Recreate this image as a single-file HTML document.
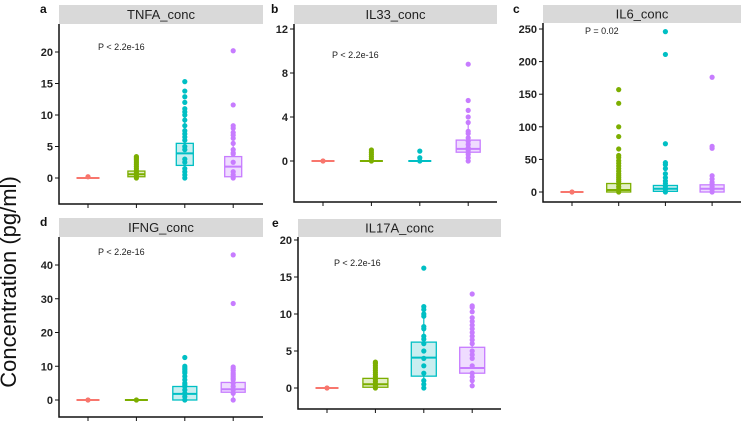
<!DOCTYPE html>
<html><head><meta charset="utf-8">
<style>
html,body{margin:0;padding:0;background:#fff;}
svg{display:block;font-family:"Liberation Sans",Arial,sans-serif;}
</style></head>
<body>
<svg id="fig" width="741" height="422" viewBox="0 0 741 422">
<text x="16" y="282" transform="rotate(-90 16 282)" text-anchor="middle" font-size="22" fill="#111">Concentration (pg/ml)</text>
</svg>
<script>
// ---- data ----
const groups = ["g1","g2","g3","g4"];
const colors = ["#F8766D","#7CAE00","#00BFC4","#C77CFF"];
const fills = ["#fde3e1","#e3efc6","#c9eef0","#efdcff"];

const tnfaTicks = [0,5,10,15,20];
const tnfaBoxes = [[0,0,0,0,0],[0.2,0.6,1.1,0,2],[2,3.9,5.5,0,10],[0.2,1.8,3.4,0,8]];
const tnfaPoints = [[0.2],[0,0.3,0.6,0.9,1.2,1.5,1.8,2.1,2.4,2.7,3,3.2,3.4],[0,0.5,1,1.5,2.5,3,4.5,5,6,6.5,7,7.5,8.3,9.2,10,10.5,11,12,12.9,13.8,15.3],[0,0.5,1,2.5,3.8,4,4.5,5.5,6.3,6.8,7.2,7.9,8.3,11.6,20.2]];

const il33Ticks = [0,4,8,12];
const il33Boxes = [[0,0,0,0,0],[0,0,0,0,0],[0,0,0,0,0],[0.8,1.1,1.9,0,3.4]];
const il33Points = [[0],[0,0.2,0.4,0.6,0.8,1.0],[0,0.3,0.9],[0,0.3,0.6,0.8,1,1.2,1.5,1.8,2.1,2.5,2.7,3.5,4.0,4.6,5.5,8.8]];

const il6Ticks = [0,50,100,150,200,250];
const il6Boxes = [[0,0,0,0,0],[0,3,13,0,30],[1,5,10,0,20],[0,5,11,0,25]];
const il6Points = [[0],[0,4,8,12,16,19,22,25,28,32,36,40,44,48,53,56,66,85,100,136,157],[0,4,8,13,17,22,28,36,42,45,74,211,246],[0,4,8,12,15,20,25,67,70,176]];

const ifngTicks = [0,10,20,30,40];
const ifngBoxes = [[0,0,0,0,0],[0,0,0,0,0],[0,1.8,4,0,7],[2.3,3.2,5.2,0,8]];
const ifngPoints = [[0],[0],[0,1,2,3,4,4.5,5,6,7,8,8.5,9,9.5,10,12.6],[0,2,3,4,5,6,6.5,7,7.5,8,8.7,9.3,9.8,28.6,43]];

const il17Ticks = [0,5,10,15,20];
const il17Boxes = [[0,0,0,0,0],[0.1,0.5,1.3,0,2.9],[1.6,4.1,6.2,0,10],[2,2.7,5.5,0.3,9.6]];
const il17Points = [[0],[0,0.3,0.6,0.9,1.2,1.5,1.8,2.1,2.4,2.7,3,3.3,3.5],[0,0.5,1,2,3,4,5,6,6.6,7,8,8.3,9.7,10,10.6,11,16.2],[0.3,1,1.5,2,3,4,4.5,5,6,6.5,7,7.5,8,8.5,9,9.5,10.3,10.9,11.1,12.7]];

const panels = [
 {name:"tnfa",letter:"a",title:"TNFA_conc",p:"P   < 2.2e-16",ticks:tnfaTicks,boxes:tnfaBoxes,points:tnfaPoints,
  x0:59,x1:263,sTop:5,sBot:24,bottom:204,vLo:0,yLo:178,vHi:20,yHi:52,cx0:88,dx:48.4,bw:17,lx:40,px:98,py:50},
 {name:"il33",letter:"b",title:"IL33_conc",p:"P   < 2.2e-16",ticks:il33Ticks,boxes:il33Boxes,points:il33Points,
  x0:294,x1:497,sTop:5,sBot:24,bottom:202,vLo:0,yLo:161,vHi:12,yHi:29,cx0:323,dx:48.4,bw:24,lx:271,px:332,py:58},
 {name:"il6",letter:"c",title:"IL6_conc",p:"P   = 0.02",ticks:il6Ticks,boxes:il6Boxes,points:il6Points,
  x0:543,x1:741,sTop:5,sBot:23,bottom:202,vLo:0,yLo:192,vHi:250,yHi:29,cx0:572,dx:46.7,bw:24,lx:513,px:585,py:34},
 {name:"ifng",letter:"d",title:"IFNG_conc",p:"P   < 2.2e-16",ticks:ifngTicks,boxes:ifngBoxes,points:ifngPoints,
  x0:59,x1:263,sTop:218,sBot:237,bottom:417,vLo:0,yLo:400,vHi:40,yHi:265,cx0:88,dx:48.4,bw:24,lx:40,px:98,py:255},
 {name:"il17a",letter:"e",title:"IL17A_conc",p:"P   < 2.2e-16",ticks:il17Ticks,boxes:il17Boxes,points:il17Points,
  x0:298,x1:501,sTop:219,sBot:237,bottom:409,vLo:0,yLo:388,vHi:20,yHi:240,cx0:327,dx:48.4,bw:25,lx:272,px:334,py:266}
];

const NS="http://www.w3.org/2000/svg";
const svg=document.getElementById("fig");
function mk(tag,attrs,parent){const e=document.createElementNS(NS,tag);for(const k in attrs)e.setAttribute(k,attrs[k]);(parent||svg).appendChild(e);return e;}

panels.forEach(P=>{
  const g=mk("g",{});
  
  
  const y=v=>P.yLo+(v-P.vLo)*(P.yHi-P.yLo)/(P.vHi-P.vLo);
  const x=i=>P.cx0+i*P.dx;
  const L=mk("text",{x:P.lx,y:P.sTop+8,"font-size":12,"font-weight":"bold",fill:"#111"},g);L.textContent=P.letter;
  
  
  const s=mk("rect",{x:P.x0,y:P.sTop,width:P.x1-P.x0,height:P.sBot-P.sTop,fill:"#d9d9d9"},g);
  
  
  const st=mk("text",{x:(P.x0+P.x1)/2,y:(P.sTop+P.sBot)/2+4.5,"text-anchor":"middle","font-size":13,fill:"#222"},g);st.textContent=P.title;
  
  
  const ax=mk("path",{d:`M${P.x0},${P.sBot} V${P.bottom} H${P.x1}`,stroke:"#111","stroke-width":1.5,fill:"none"},g);
  
  
  P.ticks.forEach(t=>{
    const yy=y(t);
    mk("line",{x1:P.x0-4,x2:P.x0,y1:yy,y2:yy,stroke:"#111","stroke-width":1},g);
    const tl=mk("text",{x:P.x0-6,y:yy+4,"text-anchor":"end","font-size":11,"font-weight":"bold",fill:"#222"},g);tl.textContent=t;
    
    
  });
  groups.forEach((gr,i)=>{
    mk("line",{x1:x(i),x2:x(i),y1:P.bottom,y2:P.bottom+4,stroke:"#111","stroke-width":1},g);
  });
  const pt=mk("text",{x:P.px,y:P.py,"font-size":9,fill:"#222"},g);pt.textContent=P.p;
  
  
  groups.forEach((gr,i)=>{
    const b=P.boxes[i],c=colors[i],cx=x(i),w=P.bw;
    const bg=mk("g",{},g);
    
    
    mk("line",{x1:cx,x2:cx,y1:y(b[3]),y2:y(b[4]),stroke:c,"stroke-width":1.2},bg);
    if(b[2]-b[0]>0){
      mk("rect",{x:cx-w/2,y:y(b[2]),width:w,height:y(b[0])-y(b[2]),fill:fills[i],stroke:c,"stroke-width":1.3},bg);
    }
    const ww=(b[2]-b[0]>0)?w:23;
    mk("line",{x1:cx-ww/2,x2:cx+ww/2,y1:y(b[1]),y2:y(b[1]),stroke:c,"stroke-width":2},bg);
    P.points[i].forEach(v=>{
      const d=mk("circle",{cx:cx,cy:y(v),r:2.6,fill:c},bg);
      
      
    });
  });
});
</script>
</body></html>
